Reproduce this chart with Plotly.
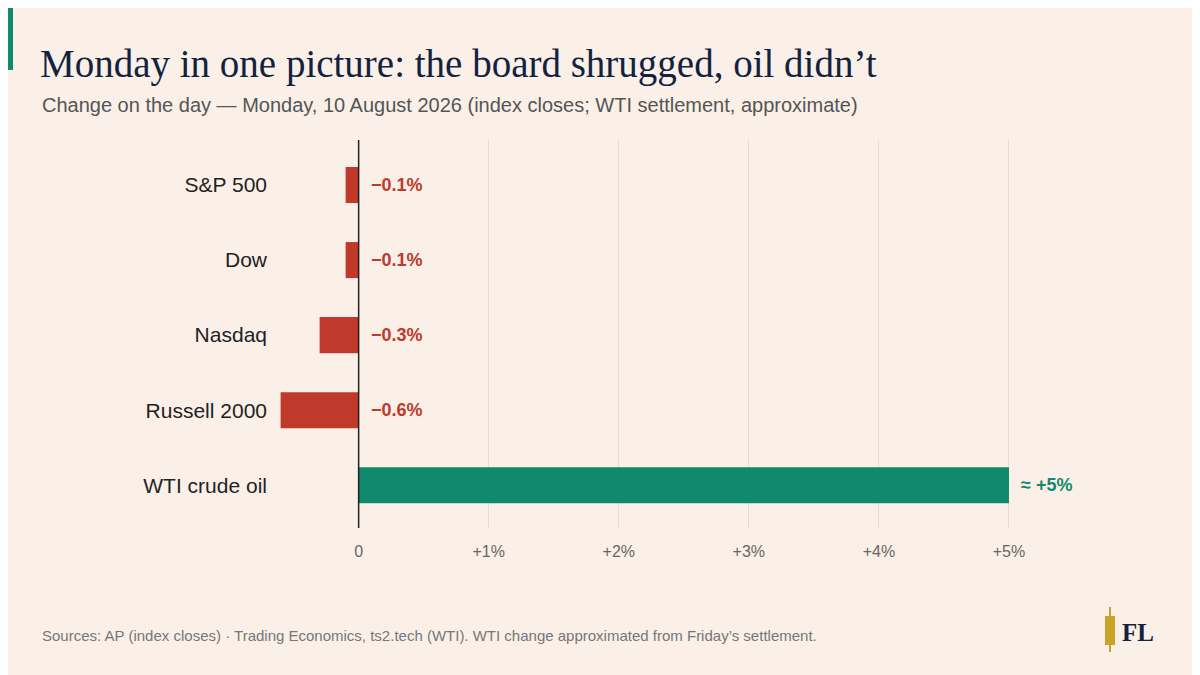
import plotly.graph_objects as go

categories = ["S&P 500", "Dow", "Nasdaq", "Russell 2000", "WTI crude oil"]
values = [-0.1, -0.1, -0.3, -0.6, 5.0]
value_labels = ["−0.1%", "−0.1%", "−0.3%", "−0.6%", "≈ +5%"]
tick_vals = [0, 1, 2, 3, 4, 5]
tick_text = ["0", "+1%", "+2%", "+3%", "+4%", "+5%"]

RED, GREEN, BG = "#c0392b", "#0f8a6c", "#faf0e8"
pos = list(range(len(categories)))
colors = [GREEN if v > 0 else RED for v in values]

OFF = 8
L, T, PW, PH = 270, 132, 809, 388
def px(x): return (x - OFF - L) / PW
def py(y): return 1 - (y - OFF - T) / PH

fig = go.Figure(go.Bar(x=values, y=pos, orientation="h", width=0.48,
                       marker=dict(color=colors, line_width=0), hoverinfo="skip"))
for i, (v, t, c) in enumerate(zip(values, value_labels, colors)):
    fig.add_annotation(x=max(v, 0), y=i, text=f"<b>{t}</b>", showarrow=False,
                       xanchor="left", xshift=10, font=dict(size=18, color=c, family="Liberation Sans"))

fig.add_shape(type="line", xref="x", yref="paper", x0=0, x1=0, y0=0, y1=1,
              line=dict(color="#222", width=1.5), layer="above")
fig.add_shape(type="rect", xref="paper", yref="paper", x0=px(0), x1=px(13),
              y0=py(70), y1=py(0), fillcolor=GREEN, line_width=0)
# logo
fig.add_shape(type="line", xref="paper", yref="paper", x0=px(1110), x1=px(1110),
              y0=py(652), y1=py(607), line=dict(color="#c9a227", width=2))
fig.add_shape(type="rect", xref="paper", yref="paper", x0=px(1105), x1=px(1115),
              y0=py(645), y1=py(616), fillcolor="#c9a227", line_width=0)
fig.add_annotation(xref="paper", yref="paper", x=px(1120), y=py(632), text="<b>FL</b>",
                   showarrow=False, xanchor="left", yanchor="middle",
                   font=dict(size=25, color="#13233f", family="Liberation Serif"))

fig.update_layout(
    width=1200, height=675, paper_bgcolor=BG, plot_bgcolor=BG, showlegend=False,
    margin=dict(l=L, r=1200 - L - PW, t=T, b=675 - T - PH),
    font=dict(family="Liberation Sans", color="#333"),
    title=dict(text="Monday in one picture: the board shrugged, oil didn’t", x=(40 - OFF) / 1200, xanchor="left",
               y=1 - (63 - OFF) / 675, yanchor="middle", font=dict(size=39, color="#13233f", family="Liberation Serif")),
    xaxis=dict(range=[-0.62, 5.6], tickvals=tick_vals, ticktext=tick_text, showgrid=True,
               gridcolor="#e6ddd3", gridwidth=1, zeroline=False, showline=False,
               tickfont=dict(size=16, color="#666"), ticks="", ticklabelstandoff=12),
    yaxis=dict(range=[4.57, -0.6], tickvals=pos, ticktext=categories, showgrid=False,
               zeroline=False, showline=False, tickfont=dict(size=21, color="#222"),
               ticks="", ticklabelstandoff=10),
)
fig.add_annotation(xref="paper", yref="paper", x=px(40), y=py(105), xanchor="left", yanchor="middle",
                   text="Change on the day — Monday, 10 August 2026 (index closes; WTI settlement, approximate)",
                   showarrow=False, font=dict(size=20, color="#555"))
fig.add_annotation(xref="paper", yref="paper", x=px(40), y=py(635), xanchor="left", yanchor="middle",
                   text="Sources: AP (index closes) · Trading Economics, ts2.tech (WTI). WTI change approximated from Friday’s settlement.",
                   showarrow=False, font=dict(size=15, color="#777"))
fig.write_html("out.html")
